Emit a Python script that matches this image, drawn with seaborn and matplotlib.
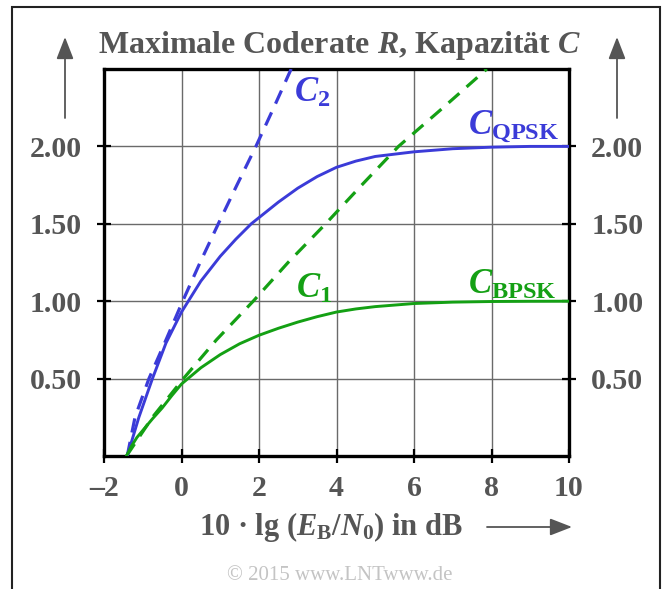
import matplotlib
matplotlib.use("Agg")
import matplotlib.pyplot as plt
import seaborn as sns
import pandas as pd
from matplotlib.patches import Rectangle, FancyArrowPatch

# ---------------- data ----------------
c1_x = [-1.42, -0.75, 0.05, 0.90, 1.85, 2.75, 3.72, 4.65, 5.60, 6.75, 7.88]
c1_y = [0.00, 0.25, 0.50, 0.75, 1.00, 1.25, 1.50, 1.75, 2.00, 2.25, 2.50]

c2_x = [-1.40, -1.20, -0.84, -0.40, 0.03, 0.48, 0.95, 1.43, 1.92, 2.38, 2.83]
c2_y = [0.00, 0.25, 0.50, 0.75, 1.00, 1.25, 1.50, 1.75, 2.00, 2.25, 2.50]

bpsk_x = [-1.42, -1.30, -1.15, -1.00, -0.75, -0.50, -0.25, 0.00, 0.50, 1.00, 1.50,
          2.00, 2.50, 3.00, 3.50, 4.00, 4.50, 5.00, 6.00, 7.00, 8.00, 9.00, 10.00]
bpsk_y = [0.00, 0.06, 0.12, 0.165, 0.24, 0.31, 0.39, 0.465, 0.57, 0.655, 0.725,
          0.78, 0.825, 0.865, 0.90, 0.93, 0.95, 0.965, 0.985, 0.994, 0.998, 0.9995, 1.00]

qpsk_x = [-1.40, -1.10, -0.75, -0.40, 0.00, 0.50, 1.00, 1.40, 1.80,
          2.50, 3.00, 3.50, 4.00, 4.50, 5.00, 6.00, 7.00, 8.00, 9.00, 10.00]
qpsk_y = [0.00, 0.25, 0.50, 0.73, 0.93, 1.13, 1.29, 1.40, 1.50,
          1.64, 1.73, 1.805, 1.865, 1.905, 1.935, 1.965, 1.985, 1.995, 2.00, 2.00]

x_ticks = [-2, 0, 2, 4, 6, 8, 10]
x_tick_labels = ["\u20132", "0", "2", "4", "6", "8", "10"]
y_ticks = [0.5, 1.0, 1.5, 2.0]
y_tick_labels = ["0.50", "1.00", "1.50", "2.00"]

title_text = "Maximale Coderate $R$, Kapazit\u00e4t $C$"
xlabel_text = "10 \u00b7 lg ($E_\\mathrm{B}/N_0$) in dB"
copyright_text = "\u00a9 2015 www.LNTwww.de"

# ---------------- style ----------------
sns.set_theme(style="white")
plt.rcParams["font.family"] = ["Liberation Serif", "DejaVu Serif"]
plt.rcParams["font.weight"] = "bold"
plt.rcParams["mathtext.fontset"] = "custom"
plt.rcParams["mathtext.rm"] = "Liberation Serif:bold"
plt.rcParams["mathtext.it"] = "Liberation Serif:bold:italic"
plt.rcParams["mathtext.bf"] = "Liberation Serif:bold"

BLUE = "#3b3bd8"
GREEN = "#14a014"
TXT = "#555555"

fig = plt.figure(figsize=(6.70, 5.89), dpi=100)
fig.patch.set_facecolor("white")
ax = fig.add_axes([104 / 670, 1 - 456 / 589, (569 - 104) / 670, (456 - 69) / 589])

df_c1 = pd.DataFrame({"x": c1_x, "y": c1_y})
df_c2 = pd.DataFrame({"x": c2_x, "y": c2_y})
df_b = pd.DataFrame({"x": bpsk_x, "y": bpsk_y})
df_q = pd.DataFrame({"x": qpsk_x, "y": qpsk_y})

sns.lineplot(data=df_c2, x="x", y="y", ax=ax, color=BLUE, lw=2.3,
             linestyle=(0, (4.5, 3)), zorder=3)
sns.lineplot(data=df_c1, x="x", y="y", ax=ax, color=GREEN, lw=2.3,
             linestyle=(0, (4.5, 3)), zorder=3)
sns.lineplot(data=df_q, x="x", y="y", ax=ax, color=BLUE, lw=2.1, zorder=4)
sns.lineplot(data=df_b, x="x", y="y", ax=ax, color=GREEN, lw=2.1, zorder=4)

ax.set_xlim(-2, 10)
ax.set_ylim(0, 2.5)
ax.set_xlabel("")
ax.set_ylabel("")
ax.set_xticks(x_ticks)
ax.set_xticklabels(x_tick_labels)
ax.set_yticks(y_ticks)
ax.set_yticklabels(y_tick_labels)

for sp in ax.spines.values():
    sp.set_visible(True)
    sp.set_color("black")
    sp.set_linewidth(2.4)

ax.grid(True, color="#6a6a6a", lw=1.0)
ax.set_axisbelow(True)

ax.tick_params(axis="x", which="both", direction="inout", length=10, width=1.6,
               colors="black", labelcolor=TXT, labelsize=21.5, pad=9, bottom=True)
ax.tick_params(axis="y", which="both", direction="inout", length=10, width=1.6,
               colors="black", labelcolor=TXT, labelsize=21.5, pad=11,
               left=True, right=True, labelleft=True, labelright=True)
for lab in ax.get_xticklabels() + ax.get_yticklabels():
    lab.set_fontweight("bold")

# curve labels
ax.text(2.90, 2.29, "$C_2$", color=BLUE, fontsize=25, ha="left", va="baseline")
ax.text(7.40, 2.08, "$C_\\mathrm{QPSK}$", color=BLUE, fontsize=25, ha="left", va="baseline")
ax.text(2.95, 1.02, "$C_1$", color=GREEN, fontsize=25, ha="left", va="baseline")
ax.text(7.40, 1.05, "$C_\\mathrm{BPSK}$", color=GREEN, fontsize=25, ha="left", va="baseline")

# title and axis label
fig.text(340 / 670, 1 - 45 / 589, title_text, color=TXT, fontsize=23,
         ha="center", va="center", fontweight="bold")
fig.text(331 / 670, 1 - 527 / 589, xlabel_text, color=TXT, fontsize=22,
         ha="center", va="center", fontweight="bold")
fig.text(340 / 670, 1 - 576 / 589, copyright_text, color="#c4c4c4", fontsize=15,
         ha="center", va="center", fontweight="normal")

arrow_kw = dict(arrowstyle="-|>,head_length=0.9,head_width=0.35", color=TXT, lw=1.3,
                shrinkA=0, shrinkB=0)
for xp in (65, 617):
    fig.add_artist(FancyArrowPatch(
        (xp / 670, 1 - 118 / 589), (xp / 670, 1 - 37 / 589),
        transform=fig.transFigure, mutation_scale=15, **arrow_kw))
fig.add_artist(FancyArrowPatch(
    (487 / 670, 1 - 527 / 589), (572 / 670, 1 - 527 / 589),
    transform=fig.transFigure, mutation_scale=15, **arrow_kw))

# outer frame
fig.add_artist(Rectangle((12 / 670, -0.02), (660 - 12) / 670, 1.02 - 7 / 589,
                         transform=fig.transFigure, fill=False, ec="#222222", lw=1.5))

fig.savefig("out.png", dpi=100, facecolor="white")
